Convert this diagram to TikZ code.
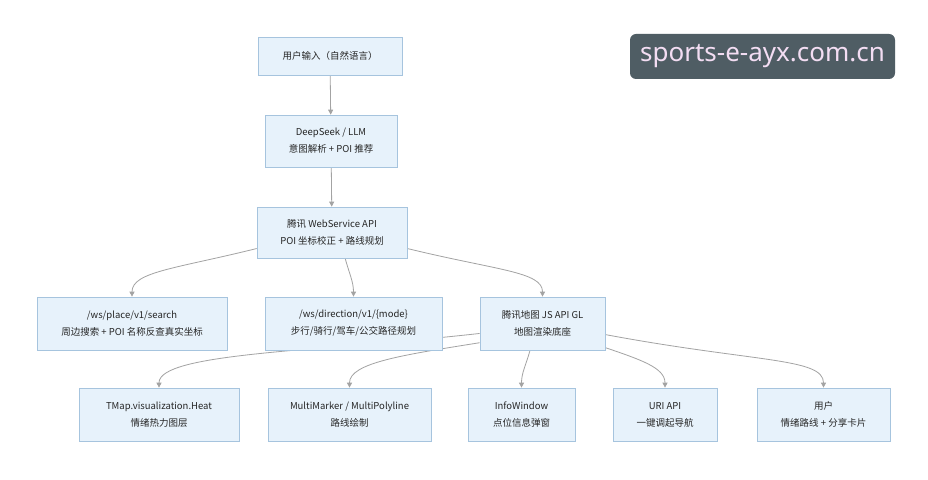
\documentclass[tikz,border=0pt]{standalone}
\usepackage{fontspec}
\setmainfont{Noto Sans CJK SC}
\newfontfamily\wmfont{Noto Sans}
\usetikzlibrary{arrows.meta}
\pgfdeclarelayer{paper}
\pgfdeclarelayer{bg}
\pgfsetlayers{paper,bg,main}
\definecolor{boxfill}{HTML}{E7F2FB}
\definecolor{boxline}{HTML}{A6C4DE}
\definecolor{edgecol}{HTML}{A3A3A3}
\definecolor{wmfill}{HTML}{4F5D64}
\definecolor{wmtext}{HTML}{F3DDF3}
\begin{document}
\begin{tikzpicture}[x=1pt,y=1pt,
  box/.style={draw=boxline, fill=boxfill, line width=0.7pt, align=center,
    inner sep=0pt, font=\fontsize{9.5}{17}\selectfont, text=black!85},
  edge/.style={draw=edgecol, line width=0.8pt,
    -{Triangle[length=5pt,width=5pt]}},
]
\begin{pgfonlayer}{paper}
\fill[white] (0,0) rectangle (928,479);
\end{pgfonlayer}
\useasboundingbox (0,0) rectangle (928,479);

\node[box, minimum width=144pt, minimum height=38pt] (in) at (330,423) {用户输入（自然语言）};
\node[box, minimum width=132pt, minimum height=52pt] (llm) at (331,338) {DeepSeek / LLM\\意图解析 + POI 推荐};
\node[box, minimum width=150pt, minimum height=51pt] (ws) at (332,246.5) {腾讯 WebService API\\POI 坐标校正 + 路线规划};

\node[box, minimum width=190pt, minimum height=53pt] (place) at (132,155.5) {/ws/place/v1/search\\周边搜索 + POI 名称反查真实坐标};
\node[box, minimum width=177pt, minimum height=53pt] (dir) at (353.5,155.5) {/ws/direction/v1/\{mode\}\\步行/骑行/驾车/公交路径规划};
\node[box, minimum width=125pt, minimum height=53pt] (js) at (542.5,155.5) {腾讯地图 JS API GL\\地图渲染底座};

\node[box, minimum width=160pt, minimum height=53pt] (heat) at (159,64.5) {TMap.visualization.Heat\\情绪热力图层};
\node[box, minimum width=163pt, minimum height=53pt] (mm) at (349.5,64.5) {MultiMarker / MultiPolyline\\路线绘制};
\node[box, minimum width=107pt, minimum height=53pt] (info) at (521.5,64.5) {InfoWindow\\点位信息弹窗};
\node[box, minimum width=104pt, minimum height=53pt] (uri) at (665,64.5) {URI API\\一键调起导航};
\node[box, minimum width=133pt, minimum height=53pt] (user) at (823.5,64.5) {用户\\情绪路线 + 分享卡片};

\node[fill=wmfill, rounded corners=6pt, minimum width=265pt, minimum height=45pt,
  inner sep=0pt, text=wmtext, font=\wmfont\fontsize{26}{28}\selectfont] (wm) at (762.5,422.5) {sports-e-ayx.com.cn};

\begin{pgfonlayer}{bg}
\draw[edge] (in) -- (llm);
\draw[edge] (llm) -- (ws);
\draw[edge] (ws.192) .. controls +(-80,-20) and +(0,25) .. (place.north);
\draw[edge] (ws.-63) .. controls +(4,-15) and +(0,15) .. (dir.north);
\draw[edge] (ws.-12) .. controls +(90,-22) and +(0,25) .. (js.north);
\draw[edge] (js.189) .. controls +(-160,-18) and +(0,35) .. (heat.north);
\draw[edge] (js.197) .. controls +(-75,-12) and +(0,25) .. (mm.north);
\draw[edge] (js.-115) .. controls +(-4,-15) and +(0,15) .. (info.north);
\draw[edge] (js.-21) .. controls +(35,-12) and +(0,20) .. (uri.north);
\draw[edge] (js.-10) .. controls +(150,-28) and +(0,30) .. (user.north);
\end{pgfonlayer}
\end{tikzpicture}
\end{document}
